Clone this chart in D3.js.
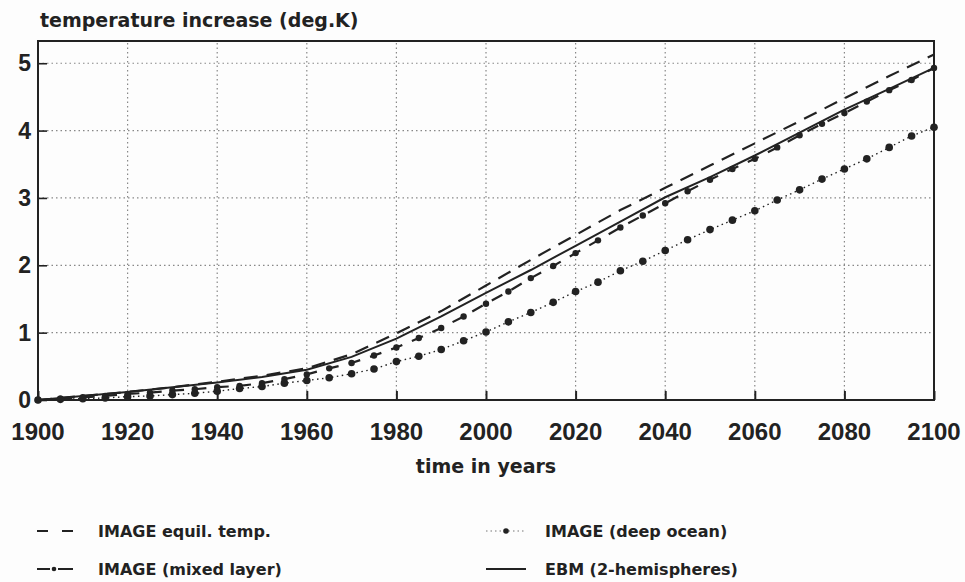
<!DOCTYPE html>
<html lang="en">
<head>
  <meta charset="UTF-8">
  <title>Temperature increase</title>
  <script src="https://d3js.org/d3.v7.min.js"></script>
  <style>
    body {
      margin: 0;
      background: #fdfdfd;
      font-family: "Liberation Sans", Arial, sans-serif;
    }
    text {
      font-weight: bold;
      fill: #222;
    }
    .wide {
      font-family: "DejaVu Sans", sans-serif;
    }
    .grid line {
      stroke: #888;
      stroke-width: 1.2px;
      stroke-dasharray: 1.5,3;
    }
    .series {
      fill: none;
      stroke: #222;
    }
  </style>
</head>
<body>
  <svg id="chart" width="965" height="582"></svg>
  <script>
    // years for the smooth curves (every 10 years) and for the marked ones (every 5)
    const years10 = d3.range(1900, 2101, 10);
    const years5 = d3.range(1900, 2101, 5);

    const equilTemp = [0, 0.06, 0.12, 0.19, 0.27, 0.36, 0.47, 0.68, 0.99, 1.32, 1.70,
                       2.08, 2.45, 2.82, 3.15, 3.48, 3.81, 4.14, 4.48, 4.81, 5.13];
    const ebm = [0, 0.06, 0.12, 0.19, 0.26, 0.34, 0.45, 0.64, 0.91, 1.24, 1.59,
                 1.93, 2.29, 2.65, 3.01, 3.31, 3.63, 3.97, 4.31, 4.62, 4.93];
    const mixedLayer = [0, 0.02, 0.04, 0.06, 0.09, 0.11, 0.14, 0.16, 0.19, 0.21, 0.25,
                        0.31, 0.38, 0.47, 0.55, 0.66, 0.78, 0.92, 1.07, 1.24, 1.43,
                        1.61, 1.81, 1.99, 2.18, 2.37, 2.56, 2.74, 2.92, 3.10, 3.27,
                        3.43, 3.58, 3.75, 3.93, 4.10, 4.26, 4.43, 4.60, 4.75, 4.93];
    const deepOcean = [0, 0.01, 0.02, 0.03, 0.05, 0.06, 0.08, 0.10, 0.13, 0.17, 0.20,
                       0.25, 0.29, 0.33, 0.39, 0.46, 0.57, 0.65, 0.75, 0.88, 1.01,
                       1.16, 1.30, 1.45, 1.61, 1.75, 1.92, 2.06, 2.22, 2.38, 2.53,
                       2.67, 2.81, 2.97, 3.12, 3.28, 3.43, 3.58, 3.75, 3.92, 4.05];

    const xTicks = d3.range(1900, 2101, 20);
    const yTicks = [0, 1, 2, 3, 4, 5];

    const svg = d3.select("#chart");

    const x = d3.scaleLinear().domain([1900, 2100]).range([38, 934]);
    const y = d3.scaleLinear().domain([0, 5.33]).range([400, 41]);

    // dotted grid
    const grid = svg.append("g").attr("class", "grid");
    grid.selectAll(".gx")
      .data(xTicks.slice(1, -1))
      .enter().append("line")
      .attr("x1", d => x(d)).attr("x2", d => x(d))
      .attr("y1", y(0)).attr("y2", y.range()[1]);
    grid.selectAll(".gy")
      .data(yTicks.slice(1))
      .enter().append("line")
      .attr("x1", x(1900)).attr("x2", x(2100))
      .attr("y1", d => y(d)).attr("y2", d => y(d));

    // axes with inward ticks
    svg.append("g")
      .attr("transform", `translate(0,${y(0)})`)
      .call(d3.axisTop(x).tickValues(xTicks).tickSize(9).tickFormat(""))
      .call(g => g.select(".domain").remove())
      .call(g => g.selectAll("line").attr("stroke", "#222").attr("stroke-width", 2));
    svg.append("g")
      .attr("transform", `translate(${x(1900)},0)`)
      .call(d3.axisRight(y).tickValues(yTicks).tickSize(9).tickFormat(""))
      .call(g => g.select(".domain").remove())
      .call(g => g.selectAll("line").attr("stroke", "#222").attr("stroke-width", 1.6));

    svg.selectAll(".xlab")
      .data(xTicks)
      .enter().append("text")
      .attr("x", d => x(d))
      .attr("y", 440)
      .attr("text-anchor", "middle")
      .attr("font-size", 24)
      .text(d => d);

    svg.selectAll(".ylab")
      .data(yTicks)
      .enter().append("text")
      .attr("x", 31)
      .attr("y", d => y(d) + 8)
      .attr("text-anchor", "end")
      .attr("font-size", 23)
      .text(d => d);

    // frame
    svg.append("rect")
      .attr("x", x(1900)).attr("y", y.range()[1])
      .attr("width", x(2100) - x(1900))
      .attr("height", y(0) - y.range()[1])
      .attr("fill", "none")
      .attr("stroke", "#222")
      .attr("stroke-width", 2);

    // series
    const line = d3.line().x(d => x(d[0])).y(d => y(d[1]));
    const zip = (yrs, vals) => yrs.map((yr, i) => [yr, vals[i]]);

    svg.append("path").attr("class", "series")
      .attr("d", line(zip(years10, equilTemp)))
      .attr("stroke-width", 2.2)
      .attr("stroke-dasharray", "14,9");

    svg.append("path").attr("class", "series")
      .attr("d", line(zip(years10, ebm)))
      .attr("stroke-width", 2);

    svg.append("path").attr("class", "series")
      .attr("d", line(zip(years5, mixedLayer)))
      .attr("stroke-width", 2.2)
      .attr("stroke-dasharray", "12,10.4");
    svg.selectAll(".mix")
      .data(zip(years5, mixedLayer))
      .enter().append("circle")
      .attr("cx", d => x(d[0])).attr("cy", d => y(d[1]))
      .attr("r", 3.2).attr("fill", "#222");

    svg.append("path").attr("class", "series")
      .attr("d", line(zip(years5, deepOcean)))
      .attr("stroke-width", 1.4)
      .attr("stroke-dasharray", "1.5,3.5")
      .attr("stroke", "#444");
    svg.selectAll(".deep")
      .data(zip(years5, deepOcean))
      .enter().append("circle")
      .attr("cx", d => x(d[0])).attr("cy", d => y(d[1]))
      .attr("r", 3.8).attr("fill", "#222");

    // titles
    svg.append("text")
      .attr("class", "wide")
      .attr("x", 40).attr("y", 27)
      .attr("font-size", 19)
      .text("temperature increase (deg.K)");

    svg.append("text")
      .attr("class", "wide")
      .attr("x", 486).attr("y", 473)
      .attr("text-anchor", "middle")
      .attr("font-size", 19)
      .text("time in years");

    // legend
    const legend = [
      { name: "IMAGE equil. temp.", col: 0, row: 0 },
      { name: "IMAGE (mixed layer)", col: 0, row: 1 },
      { name: "IMAGE (deep ocean)", col: 1, row: 0 },
      { name: "EBM (2-hemispheres)", col: 1, row: 1 }
    ];
    const lg = svg.append("g");
    legend.forEach((item, i) => {
      const gx = item.col === 0 ? 37 : 486;
      const gy = item.row === 0 ? 531 : 569;
      const row = lg.append("g").attr("transform", `translate(${gx},${gy})`);
      const sample = row.append("line")
        .attr("x1", 0).attr("x2", item.col === 0 ? 36 : 40).attr("y1", 0).attr("y2", 0)
        .attr("stroke", "#222").attr("stroke-width", 2);
      if (i === 0) sample.attr("stroke-dasharray", "11,14");
      if (i === 1) {
        sample.attr("stroke-dasharray", "13,8,0,0,15");
        row.append("circle").attr("cx", 17).attr("cy", 0).attr("r", 2.3).attr("fill", "#222");
      }
      if (i === 2) {
        sample.attr("stroke-dasharray", "1.5,3").attr("stroke-width", 1.2).attr("stroke", "#777");
        row.append("circle").attr("cx", 20).attr("cy", 0).attr("r", 2.8).attr("fill", "#222");
      }
      row.append("text")
        .attr("class", "wide")
        .attr("x", item.col === 0 ? 61 : 59).attr("y", 6)
        .attr("font-size", 16)
        .text(item.name);
    });
  </script>
</body>
</html>
